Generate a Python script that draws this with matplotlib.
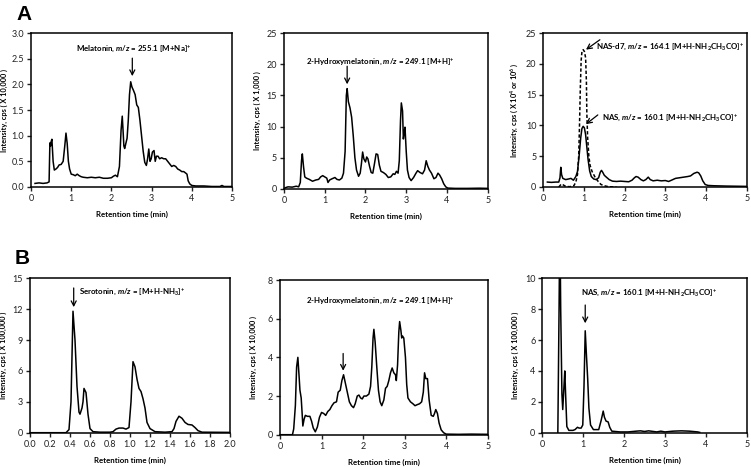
import matplotlib
matplotlib.use("Agg")
import matplotlib.pyplot as plt
from matplotlib.ticker import FormatStrFormatter

plt.rcParams['font.family'] = ['Lato', 'DejaVu Sans']
plt.rcParams['mathtext.fontset'] = 'custom'
plt.rcParams['mathtext.rm'] = 'Lato:bold'
plt.rcParams['mathtext.it'] = 'Lato:bold:italic'
plt.rcParams['mathtext.bf'] = 'Lato:bold'

# ---------------- data (retention time min, intensity) ----------------
melatonin_A = [(0.10,0.07),(0.20,0.08),(0.30,0.07),(0.40,0.08),(0.45,0.10),(0.47,0.86),(0.49,0.80),(0.50,0.88),
    (0.52,0.93),(0.55,0.50),(0.58,0.33),(0.62,0.35),(0.66,0.38),(0.70,0.43),(0.75,0.44),(0.80,0.50),(0.84,0.80),
    (0.87,1.05),(0.90,0.85),(0.93,0.50),(0.96,0.35),(1.00,0.25),(1.05,0.24),(1.10,0.22),(1.15,0.25),(1.20,0.22),
    (1.25,0.20),(1.30,0.19),(1.40,0.18),(1.50,0.19),(1.60,0.18),(1.70,0.19),(1.80,0.17),(1.90,0.17),(2.00,0.18),
    (2.05,0.21),(2.10,0.23),(2.15,0.20),(2.20,0.40),(2.24,1.10),(2.27,1.38),(2.29,1.10),(2.31,0.80),(2.33,0.75),
    (2.36,0.85),(2.39,0.95),(2.42,1.30),(2.45,1.80),(2.48,2.05),(2.51,1.95),(2.55,1.88),(2.59,1.80),(2.63,1.60),
    (2.67,1.55),(2.71,1.30),(2.75,1.00),(2.79,0.70),(2.83,0.48),(2.87,0.42),(2.90,0.55),(2.93,0.74),(2.96,0.50),
    (2.99,0.55),(3.02,0.68),(3.06,0.71),(3.09,0.50),(3.12,0.60),(3.16,0.60),(3.20,0.55),(3.25,0.57),(3.30,0.55),
    (3.35,0.55),(3.40,0.50),(3.45,0.45),(3.50,0.40),(3.55,0.42),(3.60,0.40),(3.65,0.35),(3.70,0.33),(3.75,0.30),
    (3.80,0.30),(3.85,0.27),(3.88,0.25),(3.91,0.12),(3.95,0.06),(4.00,0.03),(4.10,0.02),(4.30,0.02),(4.50,0.01),
    (4.70,0.01),(4.75,0.03),(4.80,0.01),(5.00,0.01)]

hydroxy_A = [(0.00,0.05),(0.05,0.2),(0.10,0.3),(0.20,0.25),(0.30,0.4),(0.36,0.3),(0.40,1.0),(0.43,4.5),(0.45,5.6),
    (0.48,3.5),(0.51,1.9),(0.55,1.7),(0.62,1.5),(0.70,1.2),(0.78,1.4),(0.85,1.5),(0.90,1.9),(0.95,2.1),(1.00,1.9),
    (1.05,1.7),(1.08,1.0),(1.12,1.4),(1.18,1.6),(1.25,1.8),(1.30,1.5),(1.36,1.4),(1.42,1.7),(1.46,2.5),(1.50,6.0),
    (1.53,15.0),(1.55,16.1),(1.58,14.0),(1.62,13.0),(1.66,11.5),(1.70,8.5),(1.74,5.0),(1.78,3.0),(1.83,2.0),
    (1.87,2.5),(1.90,4.0),(1.93,5.9),(1.96,4.8),(2.00,4.3),(2.03,5.1),(2.06,4.8),(2.10,3.6),(2.14,2.6),(2.18,2.5),
    (2.22,4.0),(2.26,5.6),(2.30,5.5),(2.34,3.8),(2.38,2.8),(2.44,2.6),(2.50,2.3),(2.56,1.8),(2.62,1.9),(2.68,2.4),
    (2.72,2.3),(2.76,2.8),(2.80,2.5),(2.83,4.5),(2.86,11.0),(2.88,13.8),(2.91,12.5),(2.93,8.0),(2.95,9.0),
    (2.97,9.9),(3.00,6.0),(3.03,3.0),(3.07,1.8),(3.12,1.3),(3.18,1.8),(3.24,2.5),(3.28,2.9),(3.34,2.6),(3.40,2.4),
    (3.45,3.0),(3.49,4.5),(3.53,3.6),(3.57,3.0),(3.62,2.5),(3.68,1.6),(3.73,1.8),(3.78,2.5),(3.82,2.2),(3.87,1.6),
    (3.92,0.8),(3.97,0.3),(4.02,0.1),(4.20,0.05),(4.50,0.05),(4.80,0.08),(5.00,0.05)]

nas_A = [(0.10,0.8),(0.20,0.75),(0.30,0.8),(0.38,0.8),(0.41,1.5),(0.43,3.2),(0.45,2.0),(0.48,1.4),(0.55,1.2),
    (0.62,1.3),(0.68,1.4),(0.74,1.1),(0.80,1.7),(0.84,2.5),(0.88,5.0),(0.92,8.0),(0.95,9.5),(0.98,9.85),(1.01,9.6),
    (1.04,8.5),(1.07,6.5),(1.10,4.5),(1.14,2.6),(1.18,1.7),(1.24,1.3),(1.30,1.2),(1.36,1.5),(1.40,2.4),(1.43,2.7),
    (1.46,2.4),(1.50,1.9),(1.55,1.6),(1.62,1.2),(1.70,0.95),(1.80,0.9),(1.90,0.95),(2.00,0.9),(2.10,0.85),
    (2.18,1.1),(2.24,1.5),(2.28,1.7),(2.33,1.6),(2.40,1.2),(2.46,1.0),(2.52,1.2),(2.58,1.6),(2.63,1.2),(2.70,1.0),
    (2.80,1.1),(2.90,1.0),(3.00,1.05),(3.08,0.9),(3.15,1.1),(3.25,1.4),(3.35,1.5),(3.45,1.6),(3.55,1.7),
    (3.62,1.8),(3.70,2.2),(3.78,2.4),(3.82,2.3),(3.87,1.8),(3.92,1.0),(3.98,0.4),(4.05,0.25),(4.20,0.2),
    (4.50,0.15),(4.80,0.12),(5.00,0.1)]

nas_d7_A = [(0.38,0.0),(0.42,0.3),(0.45,0.5),(0.50,0.3),(0.55,0.1),(0.65,0.05),(0.75,0.2),(0.80,0.8),(0.84,2.0),
    (0.87,5.0),(0.89,10.0),(0.91,16.0),(0.93,20.5),(0.95,22.0),(0.98,22.3),(1.01,22.0),(1.04,21.0),(1.06,17.0),
    (1.07,12.0),(1.09,8.0),(1.12,5.0),(1.15,3.5),(1.20,2.5),(1.28,1.5),(1.35,0.9),(1.42,0.4),(1.50,0.2),
    (1.60,0.05),(1.80,0.0)]

serotonin_B = [(0.00,0.0),(0.36,0.0),(0.39,0.3),(0.41,3.0),(0.43,11.8),(0.45,9.0),(0.47,4.5),(0.49,2.0),(0.50,1.8),
    (0.52,2.4),(0.53,3.0),(0.54,4.3),(0.56,3.9),(0.58,1.8),(0.60,0.4),(0.63,0.1),(0.70,0.05),(0.80,0.05),
    (0.83,0.1),(0.86,0.35),(0.89,0.45),(0.93,0.45),(0.96,0.35),(0.99,0.5),(1.01,3.0),(1.03,6.9),(1.05,6.4),
    (1.07,5.2),(1.09,4.3),(1.11,4.0),(1.13,3.3),(1.15,2.4),(1.17,1.0),(1.20,0.4),(1.25,0.1),(1.35,0.05),
    (1.42,0.1),(1.44,0.4),(1.46,1.1),(1.49,1.6),(1.52,1.4),(1.55,1.0),(1.58,0.8),(1.62,0.75),(1.65,0.5),
    (1.68,0.2),(1.72,0.05),(2.00,0.03)]

hydroxy_B = [(0.00,0.0),(0.30,0.0),(0.33,0.3),(0.37,1.5),(0.40,3.5),(0.43,4.0),(0.46,3.0),(0.48,2.3),(0.51,1.9),
    (0.53,1.2),(0.55,0.45),(0.58,0.8),(0.61,1.0),(0.66,0.95),(0.72,0.95),(0.76,0.7),(0.80,0.35),(0.85,0.15),
    (0.90,0.4),(0.95,0.9),(1.00,1.15),(1.05,1.1),(1.10,1.0),(1.15,1.2),(1.20,1.3),(1.25,1.5),(1.30,1.65),
    (1.36,1.7),(1.40,2.2),(1.45,2.3),(1.49,2.8),(1.53,3.1),(1.57,2.7),(1.62,2.2),(1.67,1.7),(1.72,1.5),(1.77,1.4),
    (1.81,1.6),(1.86,2.0),(1.90,2.05),(1.94,1.9),(1.98,1.85),(2.02,2.0),(2.08,2.0),(2.14,2.1),(2.18,2.5),
    (2.21,3.5),(2.24,5.0),(2.26,5.45),(2.29,4.8),(2.33,3.5),(2.37,2.3),(2.41,1.7),(2.45,1.5),(2.50,1.8),
    (2.54,2.4),(2.58,2.5),(2.62,2.8),(2.66,3.2),(2.70,3.45),(2.74,3.2),(2.78,3.1),(2.80,2.8),(2.83,3.6),
    (2.86,5.3),(2.88,5.85),(2.91,5.4),(2.93,5.0),(2.95,5.1),(2.98,5.0),(3.02,4.0),(3.05,2.6),(3.08,1.9),
    (3.14,1.7),(3.20,1.6),(3.25,1.5),(3.30,1.55),(3.36,1.6),(3.41,1.7),(3.45,2.2),(3.48,3.2),(3.51,2.9),
    (3.55,2.9),(3.59,1.8),(3.64,1.0),(3.69,0.95),(3.72,1.1),(3.75,1.3),(3.79,1.1),(3.83,0.6),(3.88,0.25),
    (3.94,0.1),(4.00,0.03),(4.30,0.02),(4.60,0.03),(5.00,0.02)]

nas_B = [(0.38,0.0),(0.41,8.0),(0.43,14.0),(0.45,8.0),(0.48,2.5),(0.50,1.5),(0.53,3.0),(0.55,4.0),(0.57,2.5),
    (0.60,0.4),(0.65,0.15),(0.75,0.15),(0.80,0.2),(0.86,0.35),(0.90,0.3),(0.95,0.3),(0.99,0.5),(1.02,3.0),
    (1.05,6.6),(1.08,5.0),(1.11,3.5),(1.14,1.6),(1.18,0.5),(1.25,0.2),(1.38,0.2),(1.44,0.8),(1.49,1.4),
    (1.52,1.0),(1.56,0.75),(1.61,0.7),(1.65,0.35),(1.70,0.1),(1.90,0.05),(2.10,0.05),(2.30,0.1),(2.40,0.12),
    (2.50,0.08),(2.60,0.12),(2.80,0.05),(2.90,0.1),(3.00,0.05),(3.20,0.1),(3.40,0.12),(3.60,0.1),(3.80,0.05),
    (3.85,0.02)]

ylabels = ["Intensity, cps ( X 10,000 )", "Intensity, cps ( X 1,000 )",
           "Intensity, cps ( X 10$^{4}$ or 10$^{6}$ )",
           "Intensity, cps ( X 100,000 )", "Intensity, cps ( X 10,000 )", "Intensity, cps ( X 100,000 )"]
xlabel = "Retention time (min)"

W, H = 751, 467
fig = plt.figure(figsize=(W/100, H/100), dpi=100)

def make_ax(l, t, r, b):
    return fig.add_axes([l/W, (H-b)/H, (r-l)/W, (b-t)/H])

boxes = [(31, 33, 232, 187), (284, 33.3, 487.7, 188.7), (543.3, 33, 746.7, 187),
         (30, 278.3, 230, 432.7), (280, 280, 487.7, 434.7), (542.3, 278.3, 746.7, 432.7)]
axes = [make_ax(*bx) for bx in boxes]

LW = 1.1
FS = 5.7
YFS = 5.3
def style(ax, box, xlim, xticks, ylim, yticks, ylab, xfmt=None, yfmt=None):
    ax.set_xlim(*xlim); ax.set_ylim(*ylim)
    ax.set_xticks(xticks); ax.set_yticks(yticks)
    if xfmt: ax.xaxis.set_major_formatter(FormatStrFormatter(xfmt))
    if yfmt: ax.yaxis.set_major_formatter(FormatStrFormatter(yfmt))
    for s in ax.spines.values():
        s.set_linewidth(1.1)
    ax.tick_params(direction='out', length=3, width=1.0, labelsize=6.5, pad=2, colors='#222222')
    l, t, r, b = box
    ax.set_ylabel(ylab, fontsize=YFS, fontweight='bold')
    ax.yaxis.set_label_coords(-23/(r-l), 0.5)
    ax.set_xlabel(xlabel, fontsize=FS, fontweight='bold')
    ax.xaxis.set_label_coords(0.5, -24/(b-t))

def plot_trace(ax, data, **kw):
    t = [p[0] for p in data]; v = [p[1] for p in data]
    ax.plot(t, v, color='black', lw=LW, **kw)

arrow = dict(arrowstyle='->,head_length=0.35,head_width=0.18', color='black', lw=0.9, shrinkA=0, shrinkB=0)

# A1
ax = axes[0]
plot_trace(ax, melatonin_A)
style(ax, boxes[0], (0, 5), range(6), (0, 3.0), [0, 0.5, 1.0, 1.5, 2.0, 2.5, 3.0], ylabels[0], yfmt='%.1f')
ax.text(2.56, 2.70, "Melatonin, $\\mathit{m/z}$ = 255.1 [M+Na]$^{+}$", ha='center', va='center', fontsize=FS, fontweight='bold')
ax.annotate("", xy=(2.52, 2.16), xytext=(2.52, 2.51), arrowprops=arrow)

# A2
ax = axes[1]
plot_trace(ax, hydroxy_A)
style(ax, boxes[1], (0, 5), range(6), (0, 25), range(0, 26, 5), ylabels[1])
ax.text(2.36, 20.5, "2-Hydroxymelatonin, $\\mathit{m/z}$ = 249.1 [M+H]$^{+}$", ha='center', va='center', fontsize=FS, fontweight='bold')
ax.annotate("", xy=(1.55, 16.8), xytext=(1.55, 19.7), arrowprops=arrow)

# A3
ax = axes[2]
plot_trace(ax, nas_d7_A, linestyle=(0, (2.2, 1.4)))
plot_trace(ax, nas_A)
style(ax, boxes[2], (0, 5), range(6), (0, 25), range(0, 26, 5), ylabels[2])
ax.text(1.30, 22.8, "NAS-d7, $\\mathit{m/z}$ = 164.1 [M+H-NH$_{2}$CH$_{3}$CO]$^{+}$", ha='left', va='center', fontsize=FS, fontweight='bold')
ax.annotate("", xy=(1.05, 22.3), xytext=(1.39, 23.9), arrowprops=arrow)
ax.text(1.44, 11.2, "NAS, $\\mathit{m/z}$ = 160.1 [M+H-NH$_{2}$CH$_{3}$CO]$^{+}$", ha='left', va='center', fontsize=FS, fontweight='bold')
ax.annotate("", xy=(1.05, 10.2), xytext=(1.34, 11.7), arrowprops=arrow)

# B1
ax = axes[3]
plot_trace(ax, serotonin_B)
style(ax, boxes[3], (0, 2.0), [i/5 for i in range(11)], (0, 15), range(0, 16, 3), ylabels[3], xfmt='%.1f')
ax.text(0.49, 13.7, "Serotonin, $\\mathit{m/z}$ = [M+H-NH$_{3}$]$^{+}$", ha='left', va='center', fontsize=FS, fontweight='bold')
ax.annotate("", xy=(0.437, 12.2), xytext=(0.437, 14.06), arrowprops=arrow)

# B2
ax = axes[4]
plot_trace(ax, hydroxy_B)
style(ax, boxes[4], (0, 5), range(6), (0, 8), range(0, 9, 2), ylabels[4])
ax.text(2.41, 6.91, "2-Hydroxymelatonin, $\\mathit{m/z}$ = 249.1 [M+H]$^{+}$", ha='center', va='center', fontsize=FS, fontweight='bold')
ax.annotate("", xy=(1.52, 3.31), xytext=(1.52, 4.2), arrowprops=arrow)

# B3
ax = axes[5]
plot_trace(ax, nas_B)
style(ax, boxes[5], (0, 5), range(6), (0, 10), range(0, 11, 2), ylabels[5])
ax.text(0.95, 9.09, "NAS, $\\mathit{m/z}$ = 160.1 [M+H-NH$_{2}$CH$_{3}$CO]$^{+}$", ha='left', va='center', fontsize=FS, fontweight='bold')
ax.annotate("", xy=(1.05, 7.09), xytext=(1.05, 8.27), arrowprops=arrow)

fig.text(16/W, 1 - 20/H, "A", fontsize=15, fontweight='bold', family='Liberation Sans', va='baseline')
fig.text(15/W, 1 - 264/H, "B", fontsize=15, fontweight='bold', family='Liberation Sans', va='baseline')

fig.savefig("out.png", dpi=100)
